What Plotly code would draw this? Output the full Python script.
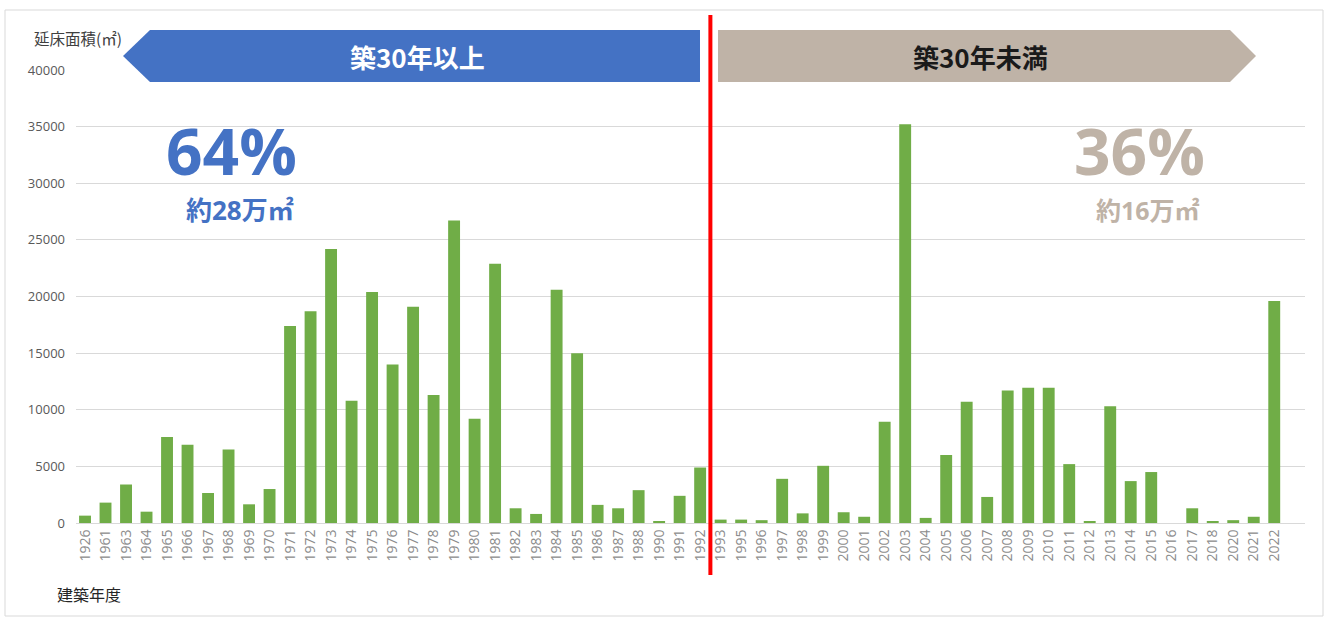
import plotly.graph_objects as go

years = ["1926", "1961", "1963", "1964", "1965", "1966", "1967", "1968", "1969", "1970",
         "1971", "1972", "1973", "1974", "1975", "1976", "1977", "1978", "1979", "1980",
         "1981", "1982", "1983", "1984", "1985", "1986", "1987", "1988", "1990", "1991",
         "1992", "1993", "1995", "1996", "1997", "1998", "1999", "2000", "2001", "2002",
         "2003", "2004", "2005", "2006", "2007", "2008", "2009", "2010", "2011", "2012",
         "2013", "2014", "2015", "2016", "2017", "2018", "2020", "2021", "2022"]
floor_area = [650, 1800, 3400, 1000, 7600, 6900, 2650, 6500, 1650, 3000,
              17400, 18700, 24200, 10800, 20400, 14000, 19100, 11300, 26700, 9200,
              22900, 1300, 800, 20600, 15000, 1600, 1300, 2900, 150, 2400,
              4900, 300, 300, 250, 3900, 850, 5050, 950, 550, 8950,
              35200, 450, 6000, 10700, 2300, 11700, 11950, 11950, 5200, 150,
              10300, 3700, 4500, 0, 1300, 150, 250, 550, 19600]
y_ticks = [0, 5000, 10000, 15000, 20000, 25000, 30000, 35000, 40000]
split_after = "1992"

W, H = 1327, 619
L, R, T, B = 76, 1305, 70, 523


def px(x):
    return (x - L) / (R - L)


def py(y):
    return (B - y) / (B - T)


fig = go.Figure()
fig.add_trace(go.Bar(x=years, y=floor_area, marker=dict(color="#70AD47", line=dict(width=0)),
                     width=0.58, hoverinfo="x+y"))

JP = "Noto Sans CJK JP, sans-serif"
NUM = "Open Sans, Noto Sans CJK JP, sans-serif"

shapes = []
# outer frame
shapes.append(dict(type="rect", xref="paper", yref="paper", x0=px(5), x1=px(1323), y0=py(616), y1=py(10),
                   line=dict(color="#d9d9d9", width=1), fillcolor="rgba(0,0,0,0)", layer="below"))
# blue arrow
blue_pts = [(123, 56), (150, 30), (700, 30), (700, 82), (150, 82)]
path = "M " + " L ".join(f"{px(a):.5f},{py(b):.5f}" for a, b in blue_pts) + " Z"
shapes.append(dict(type="path", xref="paper", yref="paper", path=path, fillcolor="#4472C4",
                   line=dict(width=0)))
beige_pts = [(718, 30), (1230, 30), (1256, 56), (1230, 82), (718, 82)]
path = "M " + " L ".join(f"{px(a):.5f},{py(b):.5f}" for a, b in beige_pts) + " Z"
shapes.append(dict(type="path", xref="paper", yref="paper", path=path, fillcolor="#BFB3A7",
                   line=dict(width=0)))
# red divider
split_idx = years.index(split_after) + 0.5
shapes.append(dict(type="line", xref="x", yref="paper", x0=split_idx, x1=split_idx,
                   y0=py(575), y1=py(15), line=dict(color="#FF0000", width=4)))


def ann(text, x, y, font, xanchor="center"):
    return dict(text=text, x=px(x), y=py(y), xref="paper", yref="paper", showarrow=False,
                xanchor=xanchor, yanchor="middle", font=font)


annotations = [
    ann("築30年以上", 417, 56, dict(family=JP, size=26, color="white", weight="bold")),
    ann("築30年未満", 980, 56, dict(family=JP, size=26, color="#1a1a1a", weight="bold")),
    ann("64%", 231, 150, dict(family=NUM, size=64, color="#4472C4", weight="bold")),
    ann("約28万㎡", 240, 210, dict(family=NUM, size=26, color="#4472C4", weight="bold")),
    ann("36%", 1139, 150, dict(family=NUM, size=64, color="#BFB3A7", weight="bold")),
    ann("約16万㎡", 1148, 210, dict(family=NUM, size=25, color="#BFB3A7", weight="bold")),
    ann("延床面積(㎡)", 32, 38, dict(family=JP, size=15.5, color="#404040"), xanchor="left"),
    ann("建築年度", 55, 594, dict(family=JP, size=16, color="#262626"), xanchor="left"),
]

fig.update_layout(
    width=W, height=H,
    margin=dict(l=L, r=W - R, t=T, b=H - B),
    plot_bgcolor="white", paper_bgcolor="white",
    showlegend=False,
    shapes=shapes, annotations=annotations,
    xaxis=dict(type="category", range=[-0.44, 59.5], tickangle=-90, showgrid=False,
               showline=True, linecolor="#d9d9d9", linewidth=1, ticks="",
               tickfont=dict(family="Open Sans, sans-serif", size=14, color="#8c8c8c")),
    yaxis=dict(range=[0, 40000], tickvals=y_ticks, ticktext=[str(v) for v in y_ticks],
               showgrid=True, gridcolor="#d9d9d9", gridwidth=1, zeroline=False,
               ticklabelstandoff=10,
               tickfont=dict(family="Open Sans, sans-serif", size=13, color="#595959")),
)

fig.write_html("out.html", config={"displayModeBar": False},
               post_script="document.body.style.margin='0px';")
